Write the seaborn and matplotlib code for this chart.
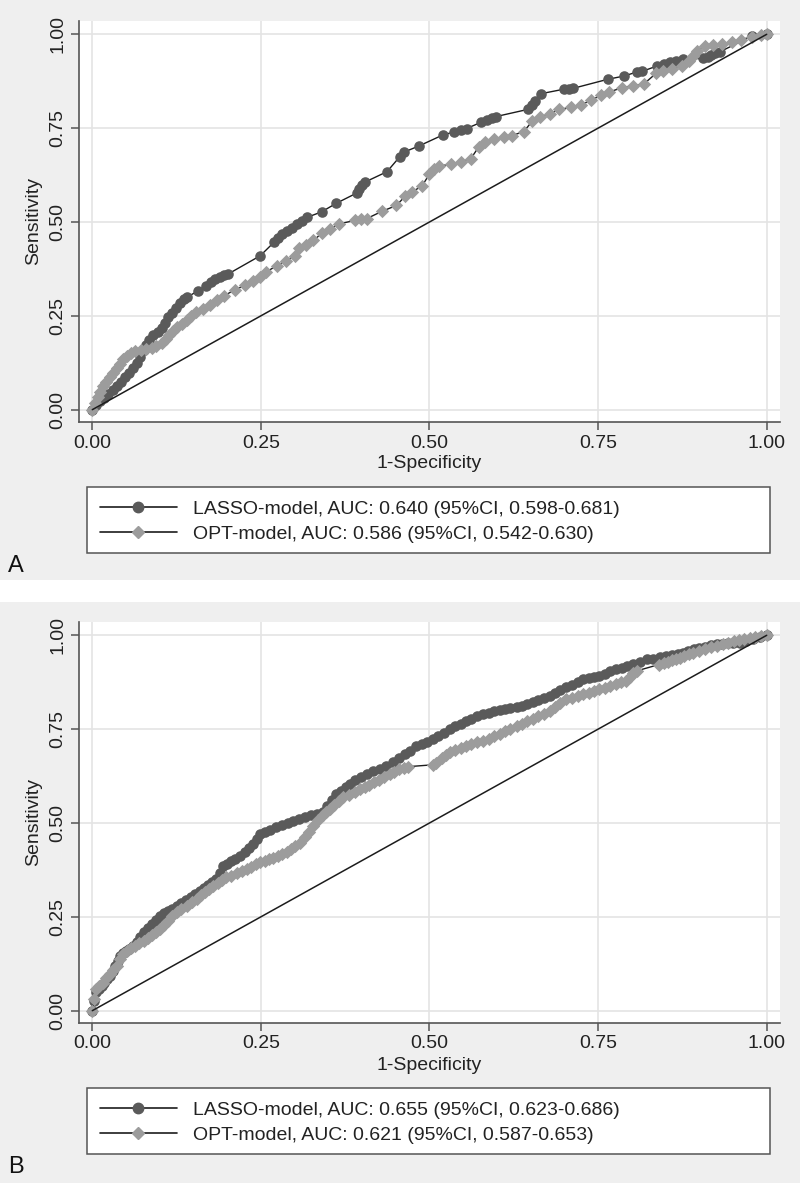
import matplotlib
matplotlib.use("Agg")
import matplotlib.pyplot as plt
import seaborn as sns
import pandas as pd
from matplotlib.lines import Line2D
from matplotlib.patches import Rectangle

# ---------------- data ----------------
A_LASSO_FPR = [0.000, 0.006, 0.012, 0.018, 0.024, 0.030, 0.036, 0.042, 0.048, 0.054, 0.060, 0.066, 0.071, 0.076,
               0.080, 0.084, 0.090, 0.097, 0.103, 0.108, 0.113, 0.118, 0.124, 0.130, 0.136, 0.141, 0.157, 0.168,
               0.176, 0.182, 0.189, 0.195, 0.201, 0.249, 0.270, 0.276, 0.282, 0.288, 0.296, 0.304, 0.311, 0.318,
               0.340, 0.362, 0.392, 0.396, 0.400, 0.404, 0.437, 0.456, 0.462, 0.485, 0.520, 0.537, 0.546, 0.555,
               0.577, 0.585, 0.592, 0.599, 0.646, 0.652, 0.657, 0.666, 0.700, 0.707, 0.713, 0.764, 0.789, 0.808,
               0.815, 0.838, 0.848, 0.857, 0.866, 0.876, 0.906, 0.913, 0.918, 0.924, 0.930, 0.978, 1.000]
A_LASSO_TPR = [0.000, 0.012, 0.022, 0.032, 0.042, 0.052, 0.062, 0.074, 0.086, 0.098, 0.112, 0.124, 0.140, 0.158,
               0.172, 0.186, 0.198, 0.208, 0.218, 0.232, 0.246, 0.257, 0.270, 0.284, 0.294, 0.300, 0.317, 0.330,
               0.341, 0.347, 0.354, 0.358, 0.361, 0.410, 0.447, 0.458, 0.467, 0.477, 0.485, 0.494, 0.503, 0.512,
               0.527, 0.550, 0.577, 0.588, 0.598, 0.606, 0.634, 0.674, 0.686, 0.703, 0.732, 0.740, 0.745, 0.749,
               0.766, 0.772, 0.777, 0.781, 0.800, 0.812, 0.822, 0.842, 0.854, 0.855, 0.856, 0.880, 0.889, 0.900,
               0.901, 0.916, 0.922, 0.927, 0.930, 0.934, 0.936, 0.940, 0.945, 0.950, 0.953, 0.995, 1.000]

A_OPT_FPR = [0.000, 0.004, 0.008, 0.012, 0.016, 0.021, 0.026, 0.031, 0.036, 0.041, 0.046, 0.051, 0.057, 0.064,
             0.072, 0.080, 0.088, 0.095, 0.103, 0.109, 0.114, 0.120, 0.126, 0.133, 0.140, 0.147, 0.154, 0.164,
             0.174, 0.185, 0.196, 0.211, 0.226, 0.239, 0.248, 0.257, 0.274, 0.287, 0.300, 0.307, 0.317, 0.328,
             0.341, 0.352, 0.366, 0.389, 0.399, 0.407, 0.429, 0.451, 0.464, 0.474, 0.489, 0.500, 0.507, 0.514,
             0.532, 0.546, 0.561, 0.573, 0.583, 0.596, 0.610, 0.622, 0.640, 0.652, 0.664, 0.678, 0.692, 0.710,
             0.725, 0.740, 0.755, 0.766, 0.786, 0.801, 0.818, 0.836, 0.846, 0.860, 0.874, 0.885, 0.890, 0.897,
             0.908, 0.920, 0.934, 0.948, 0.962, 0.978, 0.991, 1.000]
A_OPT_TPR = [0.000, 0.018, 0.034, 0.048, 0.062, 0.074, 0.086, 0.098, 0.110, 0.122, 0.134, 0.143, 0.150, 0.156,
             0.160, 0.162, 0.165, 0.170, 0.177, 0.188, 0.199, 0.209, 0.219, 0.229, 0.240, 0.250, 0.259, 0.269,
             0.279, 0.292, 0.304, 0.319, 0.331, 0.343, 0.353, 0.366, 0.384, 0.397, 0.410, 0.430, 0.440, 0.451,
             0.471, 0.481, 0.495, 0.504, 0.507, 0.509, 0.528, 0.544, 0.569, 0.580, 0.596, 0.628, 0.640, 0.648,
             0.655, 0.660, 0.668, 0.700, 0.712, 0.720, 0.726, 0.730, 0.741, 0.768, 0.779, 0.788, 0.800, 0.805,
             0.812, 0.825, 0.838, 0.846, 0.858, 0.863, 0.868, 0.896, 0.902, 0.908, 0.916, 0.930, 0.943, 0.956,
             0.968, 0.972, 0.975, 0.980, 0.986, 0.993, 0.998, 1.000]

B_LASSO_FPR = [0.000, 0.003, 0.006, 0.010, 0.014, 0.018, 0.022, 0.026, 0.030, 0.034, 0.038, 0.041, 0.046, 0.050,
               0.055, 0.061, 0.066, 0.071, 0.076, 0.082, 0.088, 0.094, 0.100, 0.106, 0.112, 0.118, 0.125, 0.132,
               0.139, 0.146, 0.153, 0.160, 0.166, 0.172, 0.178, 0.184, 0.189, 0.194, 0.200, 0.206, 0.212, 0.219,
               0.226, 0.233, 0.239, 0.244, 0.249, 0.256, 0.264, 0.273, 0.281, 0.290, 0.298, 0.307, 0.316, 0.325,
               0.333, 0.342, 0.348, 0.355, 0.362, 0.369, 0.376, 0.382, 0.390, 0.398, 0.407, 0.416, 0.426, 0.436,
               0.446, 0.455, 0.463, 0.471, 0.480, 0.489, 0.497, 0.505, 0.513, 0.522, 0.530, 0.538, 0.546, 0.554,
               0.562, 0.571, 0.579, 0.588, 0.596, 0.604, 0.612, 0.620, 0.629, 0.637, 0.645, 0.653, 0.661, 0.670,
               0.678, 0.686, 0.694, 0.703, 0.711, 0.720, 0.728, 0.736, 0.744, 0.752, 0.760, 0.768, 0.777, 0.785,
               0.793, 0.802, 0.812, 0.822, 0.832, 0.842, 0.851, 0.860, 0.868, 0.876, 0.884, 0.892, 0.900, 0.909,
               0.918, 0.926, 0.934, 0.942, 0.950, 0.960, 0.970, 0.980, 0.990, 1.000]
B_LASSO_TPR = [0.000, 0.025, 0.049, 0.058, 0.066, 0.075, 0.084, 0.093, 0.105, 0.118, 0.132, 0.147, 0.153, 0.158,
               0.164, 0.173, 0.183, 0.196, 0.209, 0.220, 0.231, 0.242, 0.253, 0.259, 0.265, 0.272, 0.280, 0.288,
               0.296, 0.304, 0.312, 0.320, 0.328, 0.336, 0.344, 0.351, 0.368, 0.386, 0.392, 0.398, 0.405, 0.413,
               0.424, 0.434, 0.444, 0.457, 0.471, 0.476, 0.482, 0.488, 0.494, 0.500, 0.506, 0.511, 0.516, 0.520,
               0.524, 0.528, 0.545, 0.560, 0.577, 0.586, 0.596, 0.604, 0.614, 0.622, 0.630, 0.638, 0.645, 0.653,
               0.662, 0.674, 0.684, 0.693, 0.704, 0.710, 0.716, 0.723, 0.732, 0.741, 0.750, 0.758, 0.765, 0.772,
               0.778, 0.784, 0.790, 0.794, 0.797, 0.800, 0.803, 0.805, 0.808, 0.812, 0.817, 0.821, 0.827, 0.833,
               0.839, 0.846, 0.853, 0.861, 0.868, 0.876, 0.883, 0.886, 0.889, 0.892, 0.898, 0.904, 0.910, 0.914,
               0.918, 0.923, 0.930, 0.936, 0.938, 0.941, 0.945, 0.948, 0.951, 0.954, 0.958, 0.963, 0.967, 0.970,
               0.973, 0.976, 0.978, 0.979, 0.980, 0.980, 0.986, 0.990, 0.995, 1.000]

B_OPT_FPR = [0.000, 0.003, 0.006, 0.010, 0.016, 0.021, 0.026, 0.031, 0.036, 0.041, 0.046, 0.051, 0.057, 0.063,
             0.070, 0.076, 0.082, 0.088, 0.094, 0.100, 0.106, 0.112, 0.118, 0.125, 0.132, 0.140, 0.148, 0.155,
             0.161, 0.167, 0.173, 0.179, 0.186, 0.193, 0.199, 0.206, 0.214, 0.222, 0.229, 0.236, 0.243, 0.249,
             0.256, 0.262, 0.268, 0.275, 0.281, 0.288, 0.295, 0.301, 0.308, 0.315, 0.321, 0.328, 0.335, 0.342,
             0.347, 0.352, 0.359, 0.366, 0.372, 0.380, 0.389, 0.397, 0.404, 0.410, 0.417, 0.425, 0.433, 0.441,
             0.448, 0.455, 0.462, 0.468, 0.505, 0.510, 0.518, 0.524, 0.530, 0.538, 0.546, 0.554, 0.562, 0.571,
             0.579, 0.588, 0.596, 0.604, 0.612, 0.620, 0.629, 0.637, 0.645, 0.653, 0.661, 0.670, 0.678, 0.686,
             0.694, 0.703, 0.711, 0.720, 0.728, 0.736, 0.744, 0.752, 0.760, 0.768, 0.777, 0.784, 0.792, 0.797,
             0.802, 0.807, 0.840, 0.847, 0.853, 0.860, 0.866, 0.872, 0.878, 0.885, 0.891, 0.900, 0.909, 0.918,
             0.926, 0.935, 0.943, 0.951, 0.959, 0.967, 0.975, 0.983, 0.991, 1.000]
B_OPT_TPR = [0.000, 0.030, 0.058, 0.065, 0.075, 0.086, 0.097, 0.108, 0.120, 0.138, 0.152, 0.160, 0.166, 0.172,
             0.179, 0.186, 0.194, 0.202, 0.210, 0.218, 0.228, 0.240, 0.251, 0.262, 0.270, 0.279, 0.289, 0.298,
             0.307, 0.315, 0.324, 0.333, 0.341, 0.349, 0.355, 0.360, 0.366, 0.372, 0.377, 0.383, 0.390, 0.395,
             0.400, 0.404, 0.408, 0.413, 0.417, 0.422, 0.430, 0.438, 0.448, 0.462, 0.477, 0.493, 0.507, 0.520,
             0.529, 0.537, 0.548, 0.559, 0.568, 0.575, 0.583, 0.590, 0.596, 0.602, 0.608, 0.615, 0.622, 0.630,
             0.637, 0.644, 0.647, 0.650, 0.655, 0.661, 0.672, 0.680, 0.688, 0.694, 0.700, 0.706, 0.710, 0.715,
             0.719, 0.725, 0.731, 0.737, 0.744, 0.751, 0.759, 0.765, 0.771, 0.777, 0.784, 0.791, 0.799, 0.810,
             0.820, 0.830, 0.834, 0.838, 0.843, 0.847, 0.851, 0.856, 0.860, 0.865, 0.870, 0.875, 0.879, 0.890,
             0.900, 0.905, 0.922, 0.926, 0.929, 0.933, 0.936, 0.940, 0.945, 0.950, 0.954, 0.958, 0.963, 0.968,
             0.972, 0.976, 0.980, 0.984, 0.988, 0.991, 0.994, 0.996, 0.998, 1.000]

PANEL_LETTERS = ["A", "B"]
LEGEND_A = ["LASSO-model, AUC: 0.640 (95%CI, 0.598-0.681)", "OPT-model, AUC: 0.586 (95%CI, 0.542-0.630)"]
LEGEND_B = ["LASSO-model, AUC: 0.655 (95%CI, 0.623-0.686)", "OPT-model, AUC: 0.621 (95%CI, 0.587-0.653)"]
TICKS = [0.0, 0.25, 0.5, 0.75, 1.0]
TICK_LABELS = ["0.00", "0.25", "0.50", "0.75", "1.00"]
DIAG = [0.0, 1.0]

# ---------------- style ----------------
sns.set_theme(style="white")
plt.rcParams["font.family"] = ["Liberation Sans", "DejaVu Sans"]

W, H = 800, 1183
BG = "#efefef"
DARK = "#5a5a5a"
LIGHT = "#9c9c9c"
LINE = "#1c1c1c"
SPINE = "#555555"
GRID = "#e4e4e4"
FS = 14

fig = plt.figure(figsize=(W / 100, H / 100), dpi=100)
fig.patch.set_facecolor("white")


def fy(py):
    return 1 - py / H


panels = [
    dict(off=0, ptop=0, pbot=580, lasso=(A_LASSO_FPR, A_LASSO_TPR), opt=(A_OPT_FPR, A_OPT_TPR),
         legend=LEGEND_A, letter=PANEL_LETTERS[0]),
    dict(off=601, ptop=602, pbot=1183, lasso=(B_LASSO_FPR, B_LASSO_TPR), opt=(B_OPT_FPR, B_OPT_TPR),
         legend=LEGEND_B, letter=PANEL_LETTERS[1]),
]

for p in panels:
    off = p["off"]
    fig.patches.append(Rectangle((0, fy(p["pbot"])), 1, (p["pbot"] - p["ptop"]) / H,
                                 transform=fig.transFigure, facecolor=BG, edgecolor="none", zorder=-10))
    ax_top, ax_bot, ax_l, ax_r = 20.7 + off, 422 + off, 79, 780
    ax = fig.add_axes([ax_l / W, fy(ax_bot), (ax_r - ax_l) / W, (ax_bot - ax_top) / H])
    ax.set_facecolor("white")

    dfl = pd.DataFrame({"fpr": p["lasso"][0], "tpr": p["lasso"][1]})
    dfo = pd.DataFrame({"fpr": p["opt"][0], "tpr": p["opt"][1]})
    dfd = pd.DataFrame({"fpr": DIAG, "tpr": DIAG})

    sns.lineplot(data=dfl, x="fpr", y="tpr", sort=False, estimator=None, color=LINE, lw=1.0, ax=ax, zorder=3)
    sns.scatterplot(data=dfl, x="fpr", y="tpr", marker="o", s=58, color=DARK, linewidth=0, ax=ax, zorder=4)
    sns.lineplot(data=dfo, x="fpr", y="tpr", sort=False, estimator=None, color=LINE, lw=1.0, ax=ax, zorder=5)
    sns.scatterplot(data=dfo, x="fpr", y="tpr", marker="D", s=46, color=LIGHT, linewidth=0, ax=ax, zorder=6)
    sns.lineplot(data=dfd, x="fpr", y="tpr", sort=False, estimator=None, color=LINE, lw=1.1, ax=ax, zorder=7)

    ax.set_xlim(-0.0197, 1.0197)
    ax.set_ylim(-0.0328, 1.0362)
    ax.set_xticks(TICKS)
    ax.set_xticklabels(TICK_LABELS)
    ax.set_yticks(TICKS)
    ax.set_yticklabels(TICK_LABELS, rotation=90, va="center")
    ax.grid(True, color=GRID, lw=1.2)
    ax.set_axisbelow(True)
    for s in ["top", "right"]:
        ax.spines[s].set_visible(False)
    for s in ["left", "bottom"]:
        ax.spines[s].set_color(SPINE)
        ax.spines[s].set_linewidth(1.2)
    ax.tick_params(axis="both", which="major", direction="out", length=5.5, width=1.1,
                   color=SPINE, labelsize=FS, labelcolor="#222222")
    ax.tick_params(axis="x", pad=3.5)
    ax.tick_params(axis="y", pad=3.5)
    ax.tick_params(bottom=True, left=True)

    ax.set_xlabel("1-Specificity", fontsize=FS, color="#222222", va="center")
    ax.xaxis.set_label_coords(0.5, (ax_bot - (464 + off)) / (ax_bot - ax_top))
    ax.set_ylabel("Sensitivity", fontsize=FS, color="#222222", va="center")
    ax.yaxis.set_label_coords((34 - ax_l) / (ax_r - ax_l), 0.5)

    fig.patches.append(Rectangle((87 / W, fy(553 + off)), (770 - 87) / W, 66 / H,
                                 transform=fig.transFigure, facecolor="white", edgecolor=SPINE,
                                 lw=1.1, zorder=1))
    handles = [
        Line2D([0], [0], color=LINE, lw=1.2, marker="o", markersize=7.5, markerfacecolor=DARK,
               markeredgecolor=DARK),
        Line2D([0], [0], color=LINE, lw=1.2, marker="D", markersize=6.5, markerfacecolor=LIGHT,
               markeredgecolor=LIGHT),
    ]
    leg = fig.legend(handles, p["legend"], loc="center left",
                     bbox_to_anchor=(100 / W, fy(521.5 + off)), bbox_transform=fig.transFigure,
                     frameon=False, borderpad=0, borderaxespad=0, fontsize=FS,
                     handlelength=3.95, handletextpad=0.85, labelspacing=0.36)
    for t in leg.get_texts():
        t.set_color("#222222")
    leg.set_zorder(5)

    fig.text(8 / W, fy(572 + off), p["letter"], fontsize=17, va="baseline", ha="left",
             family=["Liberation Sans Narrow", "Liberation Sans", "DejaVu Sans"], color="#111111")

fig.savefig("out.png", dpi=100, facecolor=fig.get_facecolor())
